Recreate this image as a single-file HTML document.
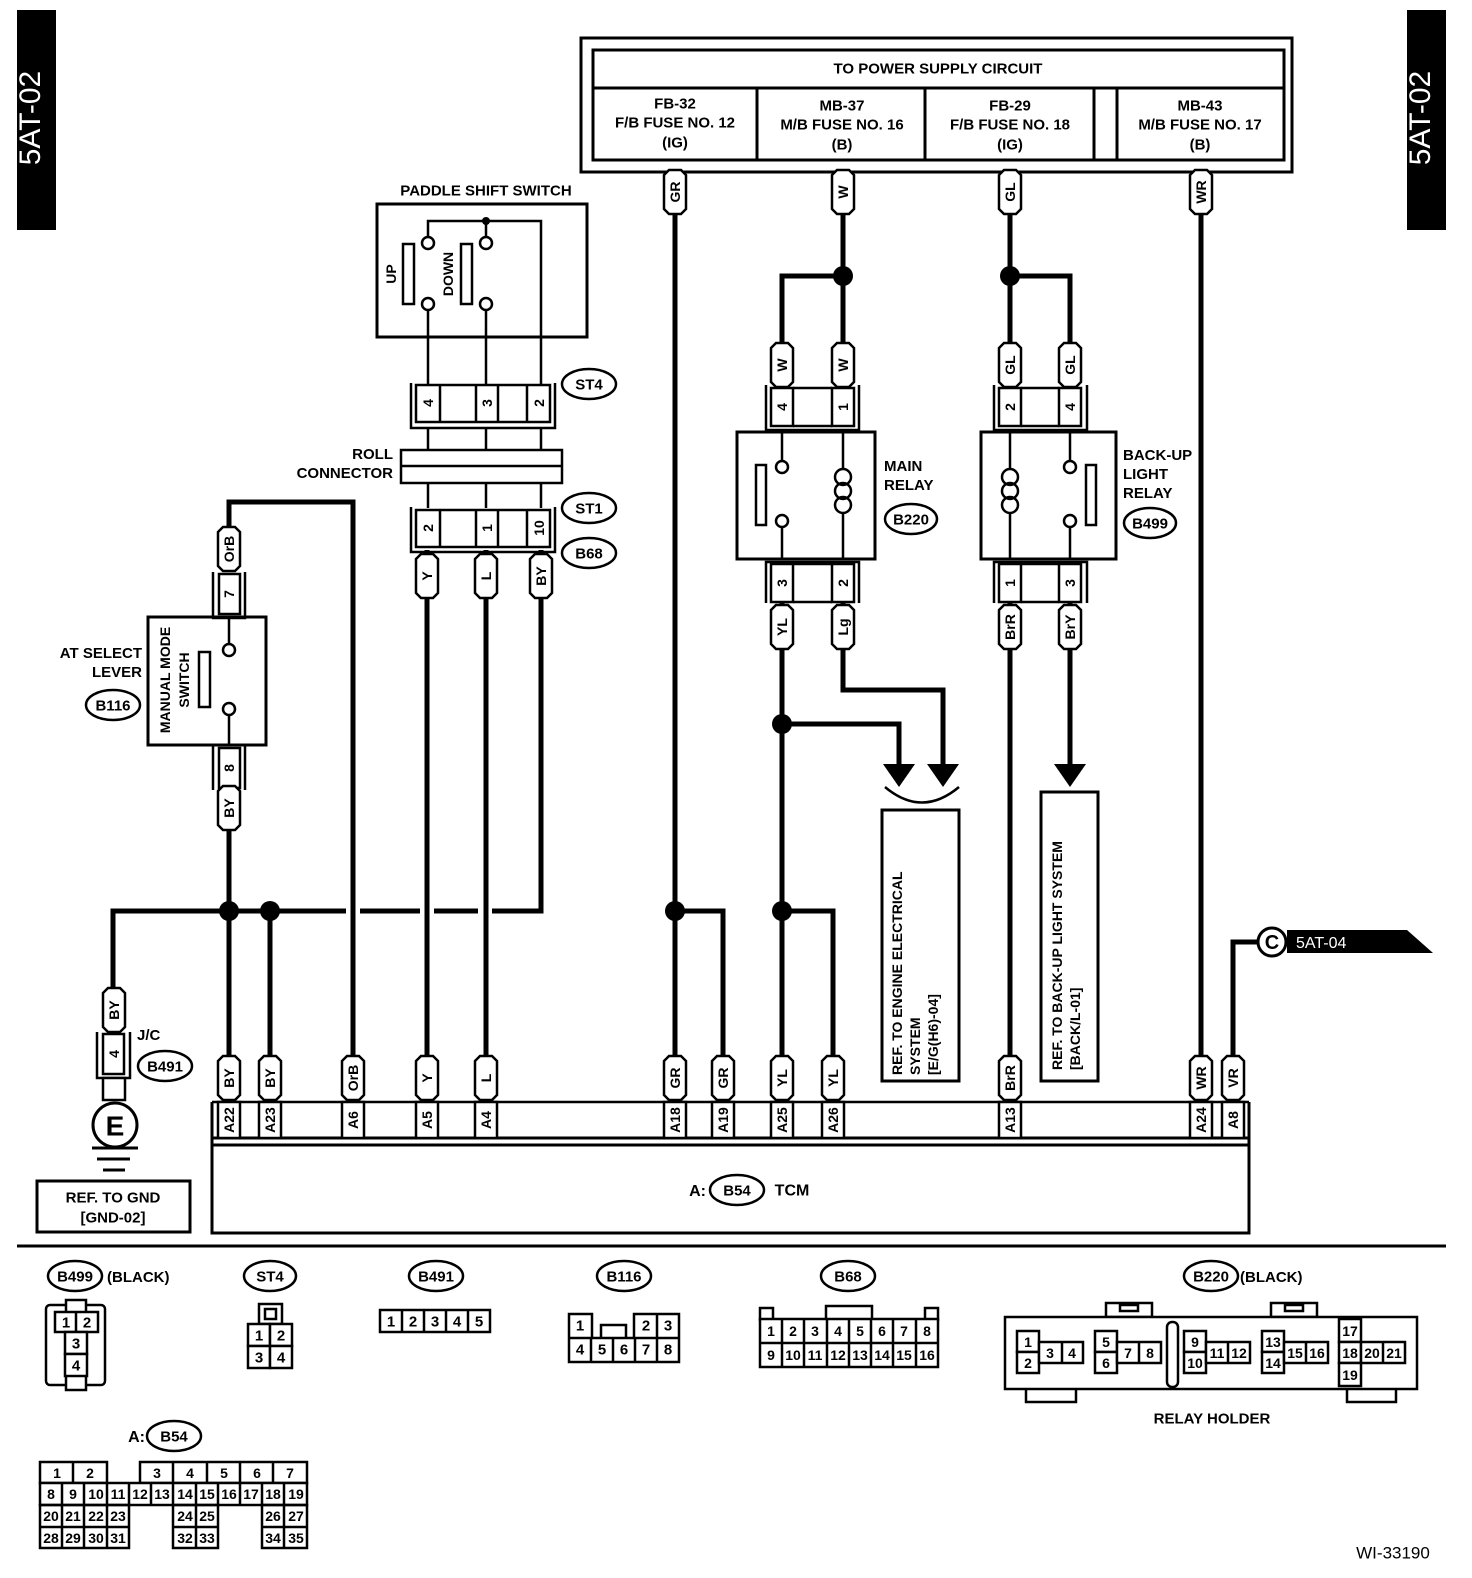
<!DOCTYPE html>
<html><head><meta charset="utf-8"><style>
html,body{margin:0;padding:0;background:#fff;}
svg{display:block;font-family:"Liberation Sans",sans-serif;font-weight:bold;}
.w{stroke:#000;stroke-width:5;fill:none;}
.t{stroke:#000;stroke-width:2.5;fill:none;}
.b{stroke:#000;stroke-width:3;fill:none;}
.lb{fill:#fff;stroke:#000;stroke-width:2.5;}
.c{fill:#fff;stroke:#000;stroke-width:2.5;}
text{fill:#000;}
.m{text-anchor:middle;dominant-baseline:central;}
.s14{font-size:14px;}
.s15{font-size:15px;}
.s16{font-size:16px;}
</style></head><body>
<svg width="1472" height="1578" viewBox="0 0 1472 1578" xmlns="http://www.w3.org/2000/svg">
<defs>
<path id="lb" d="M-11,-17 L-6,-22 L6,-22 L11,-17 V17 L6,22 H-6 L-11,17 Z" class="lb"/>
</defs>

<!-- side tabs -->
<rect x="17" y="10" width="39" height="220" fill="#000"/>
<text transform="translate(40,118) rotate(-90)" text-anchor="middle" font-size="30" font-weight="normal" style="fill:#fff">5AT-02</text>
<rect x="1407" y="10" width="39" height="220" fill="#000"/>
<text transform="translate(1430,118) rotate(-90)" text-anchor="middle" font-size="30" font-weight="normal" style="fill:#fff">5AT-02</text>

<!-- power supply box -->
<rect x="581" y="38" width="711" height="134" class="b"/>
<rect x="593" y="50" width="691" height="110" class="b"/>
<line x1="593" y1="88" x2="1284" y2="88" class="b"/>
<line x1="757" y1="88" x2="757" y2="160" class="b"/>
<line x1="925" y1="88" x2="925" y2="160" class="b"/>
<line x1="1094" y1="88" x2="1094" y2="160" class="b"/>
<line x1="1117" y1="88" x2="1117" y2="160" class="b"/>
<text x="938" y="69" class="m s15">TO POWER SUPPLY CIRCUIT</text>
<g class="m s15">
<text x="675" y="104">FB-32</text><text x="675" y="123">F/B FUSE NO. 12</text><text x="675" y="143">(IG)</text>
<text x="842" y="106">MB-37</text><text x="842" y="125">M/B FUSE NO. 16</text><text x="842" y="145">(B)</text>
<text x="1010" y="106">FB-29</text><text x="1010" y="125">F/B FUSE NO. 18</text><text x="1010" y="145">(IG)</text>
<text x="1200" y="106">MB-43</text><text x="1200" y="125">M/B FUSE NO. 17</text><text x="1200" y="145">(B)</text>
</g>

<!-- thick wires -->
<g class="w">
<path d="M675,172 V1060"/>
<path d="M675,911 H723 V1060"/>
<path d="M843,172 V390"/>
<path d="M782,390 V276 H843"/>
<path d="M782,600 V1060"/>
<path d="M782,724 H899 V768"/>
<path d="M843,600 V690 H943 V768"/>
<path d="M782,911 H833 V1060"/>
<path d="M1010,172 V390"/>
<path d="M1010,276 H1070 V390"/>
<path d="M1010,600 V1060"/>
<path d="M1070,600 V768"/>
<path d="M1201,172 V1060"/>
<path d="M1233,1060 V942 H1260"/>
<path d="M427,550 V1060"/>
<path d="M486,550 V1060"/>
<path d="M541,550 V911 H492"/>
<path d="M478,911 H434"/>
<path d="M420,911 H360"/>
<path d="M346,911 H113 V990"/>
<path d="M353,1060 V502 H229 V530"/>
<path d="M229,790 V1060"/>
<path d="M270,911 V1060"/>
</g>
<g fill="#000">
<circle cx="675" cy="911" r="10"/><circle cx="843" cy="276" r="10"/><circle cx="782" cy="724" r="10"/>
<circle cx="782" cy="911" r="10"/><circle cx="1010" cy="276" r="10"/><circle cx="229" cy="911" r="10"/>
<circle cx="270" cy="911" r="10"/>
<polygon points="883,764 915,764 899,787"/><polygon points="927,764 959,764 943,787"/>
<polygon points="1054,764 1086,764 1070,787"/>
</g>
<path d="M885,787 Q922,818 959,787" class="t"/>

<!-- ref boxes -->
<rect x="882" y="810" width="77" height="271" class="b"/>
<g class="s14">
<text transform="translate(902,1075) rotate(-90)">REF. TO ENGINE ELECTRICAL</text>
<text transform="translate(920,1075) rotate(-90)">SYSTEM</text>
<text transform="translate(938,1075) rotate(-90)">[E/G(H6)-04]</text>
</g>
<rect x="1041" y="792" width="57" height="289" class="b"/>
<g class="s14">
<text transform="translate(1062,1070) rotate(-90)">REF. TO BACK-UP LIGHT SYSTEM</text>
<text transform="translate(1080,1070) rotate(-90)">[BACK/L-01]</text>
</g>

<!-- C connector -->
<polygon points="1287,930 1407,930 1433,953 1287,953" fill="#000"/>
<circle cx="1272" cy="942" r="14" fill="#fff" stroke="#000" stroke-width="3"/>
<text x="1272" y="943" class="m" font-size="20">C</text>
<text x="1296" y="948" font-size="16" font-weight="normal" style="fill:#fff">5AT-04</text>

<!-- main relay -->
<path d="M766,385 V430 H859 V385" class="t"/>
<rect x="771" y="388" width="22" height="38" class="c"/><rect x="832" y="388" width="22" height="38" class="c"/>
<line x1="793" y1="388" x2="832" y2="388" class="t"/><line x1="793" y1="426" x2="832" y2="426" class="t"/>
<text transform="translate(782,407) rotate(-90)" class="m s14">4</text>
<text transform="translate(843,407) rotate(-90)" class="m s14">1</text>
<rect x="737" y="432" width="138" height="127" class="b"/>
<path d="M782,432 V461 M782,527 V559" class="t"/>
<circle cx="782" cy="467" r="6" class="c"/><circle cx="782" cy="521" r="6" class="c"/>
<rect x="756" y="465" width="10" height="60" class="c"/>
<path d="M843,432 V468 M843,514 V559" class="t"/>
<ellipse cx="843" cy="477" rx="8" ry="8" class="t"/><ellipse cx="843" cy="491" rx="8" ry="8" class="t"/><ellipse cx="843" cy="505" rx="8" ry="8" class="t"/>
<path d="M766,603 V562 H859 V603" class="t"/>
<rect x="771" y="564" width="22" height="38" class="c"/><rect x="832" y="564" width="22" height="38" class="c"/>
<line x1="793" y1="564" x2="832" y2="564" class="t"/><line x1="793" y1="602" x2="832" y2="602" class="t"/>
<text transform="translate(782,583) rotate(-90)" class="m s14">3</text>
<text transform="translate(843,583) rotate(-90)" class="m s14">2</text>
<text x="884" y="471" class="s15">MAIN</text><text x="884" y="490" class="s15">RELAY</text>
<ellipse cx="911" cy="519" rx="26" ry="15" class="c"/><text x="911" y="520" class="m s15">B220</text>

<!-- backup relay -->
<path d="M994,385 V430 H1087 V385" class="t"/>
<rect x="999" y="388" width="22" height="38" class="c"/><rect x="1059" y="388" width="22" height="38" class="c"/>
<line x1="1021" y1="388" x2="1059" y2="388" class="t"/><line x1="1021" y1="426" x2="1059" y2="426" class="t"/>
<text transform="translate(1010,407) rotate(-90)" class="m s14">2</text>
<text transform="translate(1070,407) rotate(-90)" class="m s14">4</text>
<rect x="981" y="432" width="135" height="127" class="b"/>
<path d="M1010,432 V468 M1010,514 V559" class="t"/>
<ellipse cx="1010" cy="477" rx="8" ry="8" class="t"/><ellipse cx="1010" cy="491" rx="8" ry="8" class="t"/><ellipse cx="1010" cy="505" rx="8" ry="8" class="t"/>
<path d="M1070,432 V461 M1070,527 V559" class="t"/>
<circle cx="1070" cy="467" r="6" class="c"/><circle cx="1070" cy="521" r="6" class="c"/>
<rect x="1086" y="465" width="10" height="60" class="c"/>
<path d="M994,603 V562 H1087 V603" class="t"/>
<rect x="999" y="564" width="22" height="38" class="c"/><rect x="1059" y="564" width="22" height="38" class="c"/>
<line x1="1021" y1="564" x2="1059" y2="564" class="t"/><line x1="1021" y1="602" x2="1059" y2="602" class="t"/>
<text transform="translate(1010,583) rotate(-90)" class="m s14">1</text>
<text transform="translate(1070,583) rotate(-90)" class="m s14">3</text>
<text x="1123" y="460" class="s15">BACK-UP</text><text x="1123" y="479" class="s15">LIGHT</text><text x="1123" y="498" class="s15">RELAY</text>
<ellipse cx="1150" cy="523" rx="26" ry="15" class="c"/><text x="1150" y="524" class="m s15">B499</text>

<!-- paddle shift switch -->
<text x="486" y="191" class="m s15">PADDLE SHIFT SWITCH</text>
<rect x="377" y="204" width="210" height="133" class="b"/>
<rect x="403" y="244" width="11" height="60" class="c"/>
<rect x="461" y="244" width="11" height="60" class="c"/>
<text transform="translate(391,274) rotate(-90)" class="m s14">UP</text>
<text transform="translate(448,274) rotate(-90)" class="m s14">DOWN</text>
<path d="M428,237 V221 H541 V385 M486,221 V237 M428,310 V385 M486,310 V385" class="t"/>
<circle cx="486" cy="221" r="4" fill="#000"/>
<circle cx="428" cy="243" r="6" class="c"/><circle cx="428" cy="304" r="6" class="c"/>
<circle cx="486" cy="243" r="6" class="c"/><circle cx="486" cy="304" r="6" class="c"/>
<path d="M411,383 V428 H555 V383" class="t"/>
<rect x="416" y="385" width="134" height="37" class="c"/>
<path d="M440,385 V422 M476,385 V422 M498,385 V422 M527,385 V422" class="t"/>
<text transform="translate(428,403) rotate(-90)" class="m s14">4</text>
<text transform="translate(487,403) rotate(-90)" class="m s14">3</text>
<text transform="translate(539,403) rotate(-90)" class="m s14">2</text>
<ellipse cx="589" cy="384" rx="27" ry="15" class="c"/><text x="589" y="385" class="m s15">ST4</text>
<path d="M428,428 V450 M486,428 V450 M541,428 V450 M428,483 V508 M486,483 V508 M541,483 V508" class="t"/>
<rect x="401" y="450" width="161" height="33" class="c"/>
<line x1="401" y1="466" x2="562" y2="466" class="t"/>
<text x="393" y="459" text-anchor="end" class="s15">ROLL</text>
<text x="393" y="478" text-anchor="end" class="s15">CONNECTOR</text>
<path d="M411,507 V552 H555 V507" class="t"/>
<rect x="416" y="510" width="134" height="37" class="c"/>
<path d="M440,510 V547 M476,510 V547 M498,510 V547 M527,510 V547" class="t"/>
<text transform="translate(428,528) rotate(-90)" class="m s14">2</text>
<text transform="translate(487,528) rotate(-90)" class="m s14">1</text>
<text transform="translate(539,528) rotate(-90)" class="m s14">10</text>
<ellipse cx="589" cy="508" rx="27" ry="15" class="c"/><text x="589" y="509" class="m s15">ST1</text>
<ellipse cx="589" cy="553" rx="27" ry="15" class="c"/><text x="589" y="554" class="m s15">B68</text>

<!-- AT select lever -->
<path d="M213,572 V618 H245 V572" class="t"/>
<rect x="219" y="574" width="21" height="40" class="c"/>
<text transform="translate(229,594) rotate(-90)" class="m s14">7</text>
<rect x="148" y="617" width="118" height="128" class="b"/>
<path d="M229,617 V645 M229,714 V745" class="t"/>
<circle cx="229" cy="650" r="6" class="c"/><circle cx="229" cy="709" r="6" class="c"/>
<rect x="199" y="652" width="11" height="55" class="c"/>
<text transform="translate(165,680) rotate(-90)" class="m s14">MANUAL MODE</text>
<text transform="translate(184,680) rotate(-90)" class="m s14">SWITCH</text>
<path d="M213,790 V745 H245 V790" class="t"/>
<rect x="219" y="748" width="21" height="40" class="c"/>
<text transform="translate(229,768) rotate(-90)" class="m s14">8</text>
<text x="142" y="658" text-anchor="end" class="s15">AT SELECT</text>
<text x="142" y="677" text-anchor="end" class="s15">LEVER</text>
<ellipse cx="113" cy="705" rx="27" ry="15" class="c"/><text x="113" y="706" class="m s15">B116</text>

<!-- J/C and ground -->
<path d="M97,1032 V1078 H130 V1032" class="t"/>
<rect x="103" y="1034" width="21" height="40" class="c"/>
<text transform="translate(114,1054) rotate(-90)" class="m s14">4</text>
<rect x="103" y="1078" width="22" height="22" class="c"/>
<circle cx="115" cy="1125" r="22" fill="#fff" stroke="#000" stroke-width="3"/>
<text x="115" y="1126" class="m" font-size="28">E</text>
<path d="M92,1148 H138 M97,1159 H130 M103,1170 H125" class="b"/>
<text x="137" y="1040" class="s15">J/C</text>
<ellipse cx="165" cy="1066" rx="27" ry="15" class="c"/><text x="165" y="1067" class="m s15">B491</text>
<rect x="37" y="1181" width="153" height="51" class="b"/>
<text x="113" y="1198" class="m s15">REF. TO GND</text>
<text x="113" y="1218" class="m s15">[GND-02]</text>

<!-- wire labels -->
<g class="s14">
<g transform="translate(675,192)"><use href="#lb"/><text transform="rotate(-90)" class="m">GR</text></g>
<g transform="translate(843,192)"><use href="#lb"/><text transform="rotate(-90)" class="m">W</text></g>
<g transform="translate(1010,192)"><use href="#lb"/><text transform="rotate(-90)" class="m">GL</text></g>
<g transform="translate(1201,192)"><use href="#lb"/><text transform="rotate(-90)" class="m">WR</text></g>
<g transform="translate(782,365)"><use href="#lb"/><text transform="rotate(-90)" class="m">W</text></g>
<g transform="translate(843,365)"><use href="#lb"/><text transform="rotate(-90)" class="m">W</text></g>
<g transform="translate(1010,365)"><use href="#lb"/><text transform="rotate(-90)" class="m">GL</text></g>
<g transform="translate(1070,365)"><use href="#lb"/><text transform="rotate(-90)" class="m">GL</text></g>
<g transform="translate(782,627)"><use href="#lb"/><text transform="rotate(-90)" class="m">YL</text></g>
<g transform="translate(843,627)"><use href="#lb"/><text transform="rotate(-90)" class="m">Lg</text></g>
<g transform="translate(1010,627)"><use href="#lb"/><text transform="rotate(-90)" class="m">BrR</text></g>
<g transform="translate(1070,627)"><use href="#lb"/><text transform="rotate(-90)" class="m">BrY</text></g>
<g transform="translate(427,576)"><use href="#lb"/><text transform="rotate(-90)" class="m">Y</text></g>
<g transform="translate(486,576)"><use href="#lb"/><text transform="rotate(-90)" class="m">L</text></g>
<g transform="translate(541,576)"><use href="#lb"/><text transform="rotate(-90)" class="m">BY</text></g>
<g transform="translate(229,549)"><use href="#lb"/><text transform="rotate(-90)" class="m">OrB</text></g>
<g transform="translate(229,808)"><use href="#lb"/><text transform="rotate(-90)" class="m">BY</text></g>
<g transform="translate(114,1010)"><use href="#lb"/><text transform="rotate(-90)" class="m">BY</text></g>
<g transform="translate(229,1078)"><use href="#lb"/><text transform="rotate(-90)" class="m">BY</text></g>
<g transform="translate(270,1078)"><use href="#lb"/><text transform="rotate(-90)" class="m">BY</text></g>
<g transform="translate(353,1078)"><use href="#lb"/><text transform="rotate(-90)" class="m">OrB</text></g>
<g transform="translate(427,1078)"><use href="#lb"/><text transform="rotate(-90)" class="m">Y</text></g>
<g transform="translate(486,1078)"><use href="#lb"/><text transform="rotate(-90)" class="m">L</text></g>
<g transform="translate(675,1078)"><use href="#lb"/><text transform="rotate(-90)" class="m">GR</text></g>
<g transform="translate(723,1078)"><use href="#lb"/><text transform="rotate(-90)" class="m">GR</text></g>
<g transform="translate(782,1078)"><use href="#lb"/><text transform="rotate(-90)" class="m">YL</text></g>
<g transform="translate(833,1078)"><use href="#lb"/><text transform="rotate(-90)" class="m">YL</text></g>
<g transform="translate(1010,1078)"><use href="#lb"/><text transform="rotate(-90)" class="m">BrR</text></g>
<g transform="translate(1201,1078)"><use href="#lb"/><text transform="rotate(-90)" class="m">WR</text></g>
<g transform="translate(1233,1078)"><use href="#lb"/><text transform="rotate(-90)" class="m">VR</text></g>
</g>

<!-- TCM -->
<path d="M212,1102 H1249" class="t"/>
<path d="M212,1102 V1233 H1249 V1102" class="b"/>
<line x1="212" y1="1138" x2="1249" y2="1138" class="b"/>
<line x1="212" y1="1145" x2="1249" y2="1145" class="b"/>
<g class="s14">
<g transform="translate(229,1120)"><rect x="-11" y="-18" width="22" height="36" class="c"/><text transform="rotate(-90)" class="m">A22</text></g>
<g transform="translate(270,1120)"><rect x="-11" y="-18" width="22" height="36" class="c"/><text transform="rotate(-90)" class="m">A23</text></g>
<g transform="translate(353,1120)"><rect x="-11" y="-18" width="22" height="36" class="c"/><text transform="rotate(-90)" class="m">A6</text></g>
<g transform="translate(427,1120)"><rect x="-11" y="-18" width="22" height="36" class="c"/><text transform="rotate(-90)" class="m">A5</text></g>
<g transform="translate(486,1120)"><rect x="-11" y="-18" width="22" height="36" class="c"/><text transform="rotate(-90)" class="m">A4</text></g>
<g transform="translate(675,1120)"><rect x="-11" y="-18" width="22" height="36" class="c"/><text transform="rotate(-90)" class="m">A18</text></g>
<g transform="translate(723,1120)"><rect x="-11" y="-18" width="22" height="36" class="c"/><text transform="rotate(-90)" class="m">A19</text></g>
<g transform="translate(782,1120)"><rect x="-11" y="-18" width="22" height="36" class="c"/><text transform="rotate(-90)" class="m">A25</text></g>
<g transform="translate(833,1120)"><rect x="-11" y="-18" width="22" height="36" class="c"/><text transform="rotate(-90)" class="m">A26</text></g>
<g transform="translate(1010,1120)"><rect x="-11" y="-18" width="22" height="36" class="c"/><text transform="rotate(-90)" class="m">A13</text></g>
<g transform="translate(1201,1120)"><rect x="-11" y="-18" width="22" height="36" class="c"/><text transform="rotate(-90)" class="m">A24</text></g>
<g transform="translate(1233,1120)"><rect x="-11" y="-18" width="22" height="36" class="c"/><text transform="rotate(-90)" class="m">A8</text></g>
</g>
<text x="706" y="1196" text-anchor="end" class="s16">A:</text>
<ellipse cx="737" cy="1190" rx="27" ry="15" class="c"/><text x="737" y="1191" class="m s15">B54</text>
<text x="792" y="1191" class="m s16">TCM</text>

<line x1="17" y1="1246" x2="1446" y2="1246" class="b"/>

<!-- bottom connector views -->
<g class="s15">
<ellipse cx="75" cy="1276" rx="27" ry="15" class="c"/><text x="75" y="1277" class="m">B499</text>
<text x="107" y="1282">(BLACK)</text>
<rect x="46" y="1305" width="59" height="80" rx="4" class="c"/>
<rect x="66" y="1300" width="20" height="90" class="c"/>
<rect x="55" y="1312" width="43" height="20" class="c"/><line x1="76" y1="1312" x2="76" y2="1332" class="t"/>
<rect x="65" y="1332" width="22" height="22" class="c"/><rect x="65" y="1354" width="22" height="22" class="c"/>
<text x="66" y="1323" class="m">1</text><text x="87" y="1323" class="m">2</text><text x="76" y="1344" class="m">3</text><text x="76" y="1366" class="m">4</text>

<ellipse cx="270" cy="1276" rx="26" ry="15" class="c"/><text x="270" y="1277" class="m">ST4</text>
<rect x="259" y="1304" width="23" height="20" class="c"/><rect x="265" y="1309" width="11" height="10" class="c"/>
<rect x="248" y="1324" width="22" height="22" class="c"/><rect x="270" y="1324" width="22" height="22" class="c"/>
<rect x="248" y="1346" width="22" height="22" class="c"/><rect x="270" y="1346" width="22" height="22" class="c"/>
<text x="259" y="1336" class="m">1</text><text x="281" y="1336" class="m">2</text><text x="259" y="1358" class="m">3</text><text x="281" y="1358" class="m">4</text>

<ellipse cx="436" cy="1276" rx="27" ry="15" class="c"/><text x="436" y="1277" class="m">B491</text>
<rect x="380" y="1310" width="110" height="22" class="c"/>
<path d="M402,1310 V1332 M424,1310 V1332 M446,1310 V1332 M468,1310 V1332" class="t"/>
<text x="391" y="1322" class="m">1</text><text x="413" y="1322" class="m">2</text><text x="435" y="1322" class="m">3</text><text x="457" y="1322" class="m">4</text><text x="479" y="1322" class="m">5</text>

<ellipse cx="624" cy="1276" rx="27" ry="15" class="c"/><text x="624" y="1277" class="m">B116</text>
<path d="M569,1314 H592 V1338 H569 Z M634,1314 H679 V1338 H634 Z M569,1338 H679 V1362 H569 Z" class="c"/>
<path d="M591,1338 V1362 M613,1338 V1362 M635,1338 V1362 M657,1338 V1362 M657,1314 V1338 M601,1338 V1325 H626 V1338" class="t"/>
<text x="580" y="1326" class="m">1</text><text x="646" y="1326" class="m">2</text><text x="668" y="1326" class="m">3</text>
<text x="580" y="1350" class="m">4</text><text x="602" y="1350" class="m">5</text><text x="624" y="1350" class="m">6</text><text x="646" y="1350" class="m">7</text><text x="668" y="1350" class="m">8</text>

<ellipse cx="848" cy="1276" rx="27" ry="15" class="c"/><text x="848" y="1277" class="m">B68</text>
<rect x="760" y="1308" width="13" height="12" class="c"/><rect x="925" y="1308" width="13" height="12" class="c"/><rect x="826" y="1306" width="46" height="14" class="c"/>
<rect x="760" y="1319" width="178" height="48" class="c"/><line x1="760" y1="1343" x2="938" y2="1343" class="t"/>
<path d="M782,1319 V1367 M804,1319 V1367 M827,1319 V1367 M849,1319 V1367 M871,1319 V1367 M893,1319 V1367 M916,1319 V1367" class="t"/>
<g class="m" font-size="14">
<text x="771" y="1331">1</text><text x="793" y="1331">2</text><text x="815" y="1331">3</text><text x="838" y="1331">4</text><text x="860" y="1331">5</text><text x="882" y="1331">6</text><text x="904" y="1331">7</text><text x="927" y="1331">8</text>
<text x="771" y="1355">9</text><text x="793" y="1355">10</text><text x="815" y="1355">11</text><text x="838" y="1355">12</text><text x="860" y="1355">13</text><text x="882" y="1355">14</text><text x="904" y="1355">15</text><text x="927" y="1355">16</text>
</g>

<ellipse cx="1211" cy="1276" rx="27" ry="15" class="c"/><text x="1211" y="1277" class="m">B220</text>
<text x="1240" y="1282">(BLACK)</text>
<rect x="1106" y="1303" width="46" height="14" class="c"/><rect x="1271" y="1303" width="46" height="14" class="c"/>
<rect x="1120" y="1305" width="18" height="6" class="c"/><rect x="1285" y="1305" width="18" height="6" class="c"/>
<rect x="1005" y="1317" width="412" height="72" class="c"/>
<path d="M1026,1389 V1402 H1076 V1389 M1347,1389 V1402 H1396 V1389" class="t"/>
<rect x="1167" y="1322" width="11" height="65" rx="5" class="c"/>
<g font-size="14" class="m">
<rect x="1017" y="1331" width="22" height="21" class="c"/><rect x="1017" y="1352" width="22" height="21" class="c"/><rect x="1039" y="1342" width="44" height="21" class="c"/><line x1="1062" y1="1342" x2="1062" y2="1363" class="t"/>
<text x="1028" y="1342">1</text><text x="1028" y="1363">2</text><text x="1050" y="1353">3</text><text x="1072" y="1353">4</text>
<rect x="1095" y="1331" width="22" height="21" class="c"/><rect x="1095" y="1352" width="22" height="21" class="c"/><rect x="1117" y="1342" width="44" height="21" class="c"/><line x1="1139" y1="1342" x2="1139" y2="1363" class="t"/>
<text x="1106" y="1342">5</text><text x="1106" y="1363">6</text><text x="1128" y="1353">7</text><text x="1150" y="1353">8</text>
<rect x="1184" y="1331" width="22" height="21" class="c"/><rect x="1184" y="1352" width="22" height="21" class="c"/><rect x="1206" y="1342" width="44" height="21" class="c"/><line x1="1228" y1="1342" x2="1228" y2="1363" class="t"/>
<text x="1195" y="1342">9</text><text x="1195" y="1363">10</text><text x="1217" y="1353">11</text><text x="1239" y="1353">12</text>
<rect x="1262" y="1331" width="22" height="21" class="c"/><rect x="1262" y="1352" width="22" height="21" class="c"/><rect x="1284" y="1342" width="44" height="21" class="c"/><line x1="1306" y1="1342" x2="1306" y2="1363" class="t"/>
<text x="1273" y="1342">13</text><text x="1273" y="1363">14</text><text x="1295" y="1353">15</text><text x="1317" y="1353">16</text>
<rect x="1339" y="1319" width="22" height="23" class="c"/><rect x="1339" y="1342" width="22" height="21" class="c"/><rect x="1339" y="1363" width="22" height="23" class="c"/><rect x="1361" y="1342" width="44" height="21" class="c"/><line x1="1383" y1="1342" x2="1383" y2="1363" class="t"/>
<text x="1350" y="1331">17</text><text x="1350" y="1353">18</text><text x="1350" y="1375">19</text><text x="1372" y="1353">20</text><text x="1394" y="1353">21</text>
</g>
<text x="1212" y="1419" class="m">RELAY HOLDER</text>

<text x="145" y="1442" text-anchor="end" class="s16">A:</text>
<ellipse cx="174" cy="1436" rx="27" ry="15" class="c"/><text x="174" y="1437" class="m">B54</text>
</g>
<!-- B54 grid -->
<g class="t">
<rect x="40" y="1462" width="67" height="21" fill="#fff"/><line x1="73" y1="1462" x2="73" y2="1483"/>
<rect x="140" y="1462" width="167" height="21" fill="#fff"/>
<path d="M173,1462 V1483 M207,1462 V1483 M240,1462 V1483 M273,1462 V1483"/>
<rect x="40" y="1483" width="267" height="22" fill="#fff"/>
<path d="M62,1483 V1505 M84,1483 V1505 M107,1483 V1505 M129,1483 V1505 M151,1483 V1505 M173,1483 V1505 M196,1483 V1505 M218,1483 V1505 M240,1483 V1505 M262,1483 V1505 M284,1483 V1505"/>
<rect x="40" y="1505" width="89" height="43"/><rect x="173" y="1505" width="45" height="43"/><rect x="262" y="1505" width="45" height="43"/>
<path d="M40,1527 H129 M173,1527 H218 M262,1527 H307 M62,1505 V1548 M84,1505 V1548 M107,1505 V1548 M196,1505 V1548 M284,1505 V1548"/>
</g>
<g class="m" font-size="14">
<text x="57" y="1473">1</text><text x="90" y="1473">2</text><text x="157" y="1473">3</text><text x="190" y="1473">4</text><text x="224" y="1473">5</text><text x="257" y="1473">6</text><text x="290" y="1473">7</text>
<text x="51" y="1494">8</text><text x="73" y="1494">9</text><text x="96" y="1494">10</text><text x="118" y="1494">11</text><text x="140" y="1494">12</text><text x="162" y="1494">13</text><text x="185" y="1494">14</text><text x="207" y="1494">15</text><text x="229" y="1494">16</text><text x="251" y="1494">17</text><text x="273" y="1494">18</text><text x="296" y="1494">19</text>
<text x="51" y="1516">20</text><text x="73" y="1516">21</text><text x="96" y="1516">22</text><text x="118" y="1516">23</text><text x="185" y="1516">24</text><text x="207" y="1516">25</text><text x="273" y="1516">26</text><text x="296" y="1516">27</text>
<text x="51" y="1538">28</text><text x="73" y="1538">29</text><text x="96" y="1538">30</text><text x="118" y="1538">31</text><text x="185" y="1538">32</text><text x="207" y="1538">33</text><text x="273" y="1538">34</text><text x="296" y="1538">35</text>
</g>

<text x="1393" y="1553" class="m" font-size="17" font-weight="normal">WI-33190</text>
</svg>
</body></html>
